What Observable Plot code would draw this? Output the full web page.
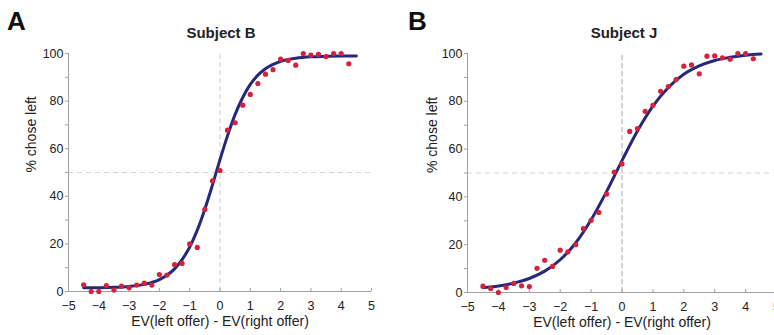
<!DOCTYPE html>
<html>
<head>
<meta charset="utf-8">
<script src="https://cdn.jsdelivr.net/npm/d3@7"></script>
<script src="https://cdn.jsdelivr.net/npm/@observablehq/plot@0.6"></script>
<style>
  html, body { margin: 0; padding: 0; background: #fff; }
  #wrap { position: relative; width: 774px; height: 335px; overflow: hidden; font-family: "Liberation Sans", Arial, Helvetica, sans-serif; }
  .panel { position: absolute; top: 0; }
  .panel svg { max-width: none !important; }
  .letter { position: absolute; font-weight: bold; font-size: 26px; color: #111; line-height: 1; }
  .title { position: absolute; font-weight: bold; font-size: 15px; color: #222; line-height: 1; transform: translateX(-50%); white-space: nowrap; }
</style>
</head>
<body>
<div id="wrap"></div>
<script>
// ---- data ----
const panelLetters = ["A", "B"];
const subjects = ["Subject B", "Subject J"];
const xTicks = [-5, -4, -3, -2, -1, 0, 1, 2, 3, 4, 5];
const yTicks = [0, 20, 40, 60, 80, 100];
const yMinorTicks = [0, 10, 20, 30, 40, 50, 60, 70, 80, 90, 100];
const xLabel = "EV(left offer) - EV(right offer)";
const yLabel = "% chose left";

const evBins = [-4.5,-4.25,-4,-3.75,-3.5,-3.25,-3,-2.75,-2.5,-2.25,-2,-1.75,-1.5,-1.25,-1,-0.75,-0.5,-0.25,0,
                0.25,0.5,0.75,1,1.25,1.5,1.75,2,2.25,2.5,2.75,3,3.25,3.5,3.75,4,4.25];
const choseLeftB = [2.8,0,0,2.5,0.6,2.3,1.6,2.7,3.5,2.7,7.1,6.9,11.3,11.8,20.0,18.5,34.5,46.5,50.8,
                    67.8,70.9,78.3,82.8,87.4,91.3,93.2,97.6,97.1,95.1,100,99.3,99.6,98.7,100,100,95.7];
const choseLeftJ = [2.65,1.7,0,2.1,3.8,2.8,2.5,10.1,13.5,10.9,17.7,17.0,20.0,26.7,30.2,33.5,41.2,50.4,53.8,
                    67.4,68.6,75.8,78.3,84.2,86.2,89.1,94.7,95.2,91.5,98.9,99.0,98.2,97.6,100,100,97.8];

const fitXB = [-4.5,-4,-3.5,-3,-2.5,-2,-1.5,-1.25,-1,-0.75,-0.5,-0.25,0,0.25,0.5,0.75,1,1.25,1.5,2,2.5,3,3.5,4,4.5];
const fitYB = [1.55,1.61,1.76,2.13,2.99,5.0,9.5,13.4,18.7,25.8,34.6,44.7,55.4,65.5,74.4,81.5,87.0,90.9,93.6,96.7,98.0,98.6,98.8,98.9,98.95];
const fitXJ = [-4.5,-4,-3.5,-3,-2.5,-2,-1.5,-1,-0.5,0,0.5,1,1.5,2,2.5,3,3.5,4,4.5];
const fitYJ = [2.04,2.75,3.93,5.85,8.93,13.7,20.7,30.4,42.2,55.2,67.6,78.0,85.8,91.3,94.8,97.1,98.4,99.3,99.8];

// ---- build ----
const wrap = document.getElementById("wrap");

function makePanel(cfg) {
  const pts = cfg.xs.map((x, i) => ({x, y: cfg.ys[i]}));
  const fit = cfg.fx.map((x, i) => ({x, y: cfg.fy[i]}));
  const plot = Plot.plot({
    width: cfg.width,
    height: 335,
    marginLeft: cfg.ml,
    marginRight: cfg.mr,
    marginTop: cfg.mt,
    marginBottom: cfg.mb,
    style: {fontFamily: '"Liberation Sans", Arial, Helvetica, sans-serif', fontSize: "12px", color: "#222", background: "transparent", overflow: "visible", maxWidth: "none"},
    x: {domain: [-5, 5]},
    y: {domain: [0, 100]},
    marks: [
      // reference lines
      Plot.ruleY([50], {x1: -5, x2: 5, stroke: "#d6d6d6", strokeWidth: 1, strokeDasharray: "5,4"}),
      Plot.ruleX([0], {y1: 0, y2: 100, stroke: cfg.vstroke, strokeWidth: 1, strokeDasharray: "5,3"}),
      // axes lines
      Plot.ruleX([-5], {y1: 0, y2: 100, stroke: "#a0a0a0", strokeWidth: 1}),
      Plot.ruleY([0], {x1: -5, x2: 5, stroke: "#a0a0a0", strokeWidth: 1}),
      Plot.axisY(yMinorTicks, {tickSize: 3, stroke: "#a0a0a0", text: null, label: null}),
      Plot.axisY(yTicks, {tickSize: 0, tickPadding: 5, fill: "#222", fontSize: 12.5, label: null}),
      Plot.axisX(xTicks, {tickSize: -3, stroke: "#a0a0a0", text: null, label: null}),
      Plot.axisX(xTicks, {tickSize: 0, tickPadding: 10, fill: "#222", fontSize: 12.5, label: null}),
      // axis labels
      Plot.text([yLabel], {frameAnchor: "left", dx: cfg.ylabDx, rotate: -90, fontSize: 14, fill: "#222", text: d => d}),
      Plot.text([xLabel], {frameAnchor: "bottom", dy: 34, fontSize: 14, fill: "#222", text: d => d}),
      // fit and data
      Plot.line(fit, {x: "x", y: "y", stroke: "#24297a", strokeWidth: 3, curve: "monotone-x"}),
      Plot.dot(pts, {x: "x", y: "y", r: 2.6, fill: "#d7203c", stroke: "none"})
    ]
  });
  const div = document.createElement("div");
  div.className = "panel";
  div.style.left = cfg.left + "px";
  div.style.width = cfg.width + "px";
  div.appendChild(plot);
  wrap.appendChild(div);

  const L = document.createElement("div");
  L.className = "letter";
  L.textContent = cfg.letter;
  L.style.left = cfg.letterX + "px";
  L.style.top = "8px";
  wrap.appendChild(L);

  const T = document.createElement("div");
  T.className = "title";
  T.textContent = cfg.title;
  T.style.left = cfg.titleX + "px";
  T.style.top = "25px";
  wrap.appendChild(T);
}

makePanel({
  letter: panelLetters[0], title: subjects[0],
  xs: evBins, ys: choseLeftB, fx: fitXB, fy: fitYB,
  left: 0, width: 387, ml: 68, mr: 16, mt: 53, mb: 44,
  ylabDx: -37, vstroke: "#cfcfcf", letterX: 7, titleX: 221
});
makePanel({
  letter: panelLetters[1], title: subjects[1],
  xs: evBins, ys: choseLeftJ, fx: fitXJ, fy: fitYJ,
  left: 387, width: 400, ml: 80, mr: 11, mt: 53, mb: 43,
  ylabDx: -35, vstroke: "#ababab", letterX: 408, titleX: 624
});
</script>
</body>
</html>
